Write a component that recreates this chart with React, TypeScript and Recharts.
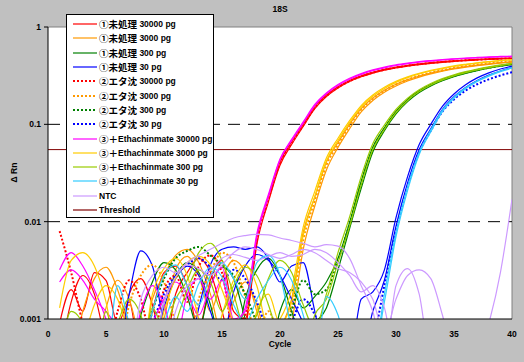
import { LineChart, Line, XAxis, YAxis, CartesianGrid, ReferenceLine } from "recharts";

const cycles = [1, 2, 3, 4, 5, 6, 7, 8, 9, 10, 11, 12, 13, 14, 15, 16, 17, 18, 19, 20, 21, 22, 23, 24, 25, 26, 27, 28, 29, 30, 31, 32, 33, 34, 35, 36, 37, 38, 39, 40];
const xTicks = [0, 5, 10, 15, 20, 25, 30, 35, 40];
const yTicks = [0.001, 0.01, 0.1, 1];
const threshold = 0.055;

// ① untreated
const u30000a = [0.0009, 0.002, 0.0012, 0.003, 0.0025, 0.0009, 0.0015, 0.0004, 0.0012, 0.003, 0.0035, 0.0022, 0.0008, 0.0025, 0.004, 0.0012, 0.001, 0.0068, 0.018, 0.041, 0.066, 0.1, 0.152, 0.2, 0.243, 0.282, 0.315, 0.343, 0.367, 0.387, 0.404, 0.418, 0.43, 0.441, 0.45, 0.458, 0.465, 0.471, 0.476, 0.48];
const u30000b = [0.0004, 0.0015, 0.0028, 0.0018, 0.0006, 0.0004, 0.0018, 0.0026, 0.0014, 0.0005, 0.0018, 0.003, 0.0042, 0.003, 0.0012, 0.0005, 0.0008, 0.0058, 0.016, 0.038, 0.062, 0.095, 0.145, 0.193, 0.236, 0.275, 0.308, 0.336, 0.36, 0.38, 0.397, 0.411, 0.423, 0.434, 0.443, 0.451, 0.458, 0.464, 0.469, 0.473];
const u3000a = [0.0004, 0.0004, 0.0012, 0.0026, 0.0034, 0.002, 0.0008, 0.0004, 0.0016, 0.0028, 0.0045, 0.0052, 0.0038, 0.0018, 0.0007, 0.0015, 0.0024, 0.0014, 0.0006, 0.0008, 0.0016, 0.0078, 0.018, 0.041, 0.065, 0.1, 0.145, 0.186, 0.224, 0.258, 0.288, 0.314, 0.337, 0.357, 0.375, 0.391, 0.405, 0.418, 0.43, 0.44];
const u3000b = [0.0004, 0.0009, 0.0004, 0.0004, 0.0013, 0.0025, 0.0016, 0.0006, 0.0004, 0.001, 0.0032, 0.0044, 0.0028, 0.0012, 0.0026, 0.004, 0.003, 0.0012, 0.0005, 0.0004, 0.0009, 0.0052, 0.0145, 0.034, 0.058, 0.09, 0.134, 0.176, 0.214, 0.248, 0.279, 0.306, 0.33, 0.351, 0.37, 0.386, 0.401, 0.414, 0.426, 0.436];
const u300a = [0.0004, 0.0004, 0.0004, 0.0004, 0.0004, 0.0004, 0.0004, 0.0011, 0.0024, 0.0038, 0.0032, 0.0017, 0.0008, 0.0022, 0.0034, 0.0026, 0.001, 0.0004, 0.0004, 0.0012, 0.002, 0.0013, 0.0017, 0.0024, 0.0042, 0.0098, 0.026, 0.058, 0.092, 0.136, 0.18, 0.221, 0.257, 0.289, 0.317, 0.342, 0.364, 0.384, 0.402, 0.418];
const u300b = [0.0004, 0.0004, 0.0004, 0.0004, 0.0004, 0.0004, 0.0004, 0.0004, 0.0004, 0.0015, 0.0028, 0.0038, 0.003, 0.0014, 0.0005, 0.0004, 0.0016, 0.0032, 0.0042, 0.0028, 0.0012, 0.0006, 0.0009, 0.0013, 0.0032, 0.0085, 0.022, 0.052, 0.086, 0.128, 0.171, 0.212, 0.248, 0.28, 0.309, 0.334, 0.357, 0.377, 0.395, 0.412];
const u30a = [0.0004, 0.0004, 0.0004, 0.0004, 0.0004, 0.0004, 0.0018, 0.005, 0.0035, 0.0009, 0.0004, 0.0004, 0.0013, 0.0036, 0.0052, 0.0055, 0.0052, 0.0055, 0.0042, 0.0024, 0.0035, 0.0038, 0.0012, 0.0004, 0.0004, 0.0004, 0.0016, 0.0019, 0.0032, 0.011, 0.029, 0.062, 0.1, 0.153, 0.205, 0.255, 0.3, 0.338, 0.37, 0.397];
const u30b = [0.0004, 0.0004, 0.0004, 0.0004, 0.0004, 0.0004, 0.0004, 0.0004, 0.0004, 0.0013, 0.0026, 0.0035, 0.0028, 0.0012, 0.0006, 0.0019, 0.0035, 0.0046, 0.004, 0.0028, 0.0016, 0.0009, 0.0004, 0.0004, 0.0004, 0.0004, 0.0004, 0.0012, 0.0025, 0.009, 0.025, 0.055, 0.09, 0.142, 0.192, 0.239, 0.282, 0.32, 0.353, 0.382];

// ② ethanol precipitation
const e30000 = [0.008, 0.003, 0.0009, 0.0004, 0.0004, 0.0012, 0.0025, 0.0016, 0.0006, 0.002, 0.0028, 0.0015, 0.0035, 0.0045, 0.003, 0.0008, 0.0011, 0.0064, 0.017, 0.04, 0.064, 0.098, 0.148, 0.196, 0.24, 0.278, 0.311, 0.34, 0.364, 0.384, 0.401, 0.415, 0.427, 0.438, 0.447, 0.455, 0.462, 0.468, 0.473, 0.477];
const e3000 = [0.0004, 0.0004, 0.0004, 0.0008, 0.0004, 0.0004, 0.0014, 0.0028, 0.0036, 0.0024, 0.0009, 0.0004, 0.0016, 0.003, 0.0048, 0.0038, 0.0017, 0.0007, 0.0012, 0.0007, 0.0013, 0.0065, 0.0165, 0.038, 0.062, 0.097, 0.142, 0.184, 0.222, 0.257, 0.288, 0.315, 0.339, 0.36, 0.379, 0.396, 0.411, 0.424, 0.436, 0.446];
const e300 = [0.0004, 0.0004, 0.0004, 0.0004, 0.0004, 0.0004, 0.0004, 0.0004, 0.0012, 0.0026, 0.0042, 0.005, 0.0055, 0.0045, 0.0036, 0.0028, 0.0018, 0.0009, 0.0004, 0.0004, 0.0012, 0.0025, 0.0018, 0.002, 0.004, 0.0095, 0.025, 0.056, 0.09, 0.133, 0.177, 0.218, 0.254, 0.286, 0.314, 0.339, 0.361, 0.381, 0.399, 0.415];
const e30 = [0.0004, 0.0004, 0.0004, 0.0004, 0.0004, 0.0004, 0.0004, 0.0004, 0.0009, 0.0018, 0.0028, 0.0036, 0.0042, 0.0034, 0.0025, 0.0032, 0.0026, 0.0015, 0.0007, 0.0004, 0.0009, 0.0016, 0.0011, 0.0005, 0.0004, 0.0004, 0.0004, 0.0006, 0.0022, 0.0082, 0.023, 0.052, 0.086, 0.135, 0.18, 0.222, 0.258, 0.29, 0.318, 0.343];

// ③ + Ethachinmate
const m30000a = [0.0032, 0.0048, 0.0035, 0.002, 0.001, 0.0004, 0.0004, 0.0012, 0.0022, 0.0014, 0.0006, 0.0018, 0.0026, 0.0016, 0.0025, 0.0009, 0.0013, 0.0075, 0.019, 0.044, 0.07, 0.106, 0.16, 0.21, 0.256, 0.297, 0.332, 0.362, 0.387, 0.408, 0.425, 0.44, 0.452, 0.463, 0.472, 0.48, 0.487, 0.493, 0.498, 0.502];
const m30000b = [0.0024, 0.0032, 0.0025, 0.0016, 0.0012, 0.0008, 0.0004, 0.0004, 0.0009, 0.0016, 0.0024, 0.0018, 0.0011, 0.0022, 0.0034, 0.001, 0.0012, 0.007, 0.018, 0.043, 0.068, 0.103, 0.156, 0.206, 0.251, 0.291, 0.326, 0.356, 0.381, 0.402, 0.42, 0.435, 0.447, 0.458, 0.467, 0.475, 0.482, 0.488, 0.493, 0.497];
const m3000a = [0.0013, 0.004, 0.0048, 0.0035, 0.0015, 0.0004, 0.0004, 0.0004, 0.0018, 0.0033, 0.0042, 0.0028, 0.001, 0.0004, 0.0011, 0.0025, 0.0036, 0.0022, 0.0008, 0.001, 0.002, 0.0088, 0.0205, 0.045, 0.072, 0.109, 0.156, 0.2, 0.24, 0.276, 0.307, 0.334, 0.358, 0.379, 0.398, 0.414, 0.429, 0.442, 0.453, 0.463];
const m3000b = [0.0004, 0.0004, 0.0006, 0.0014, 0.0022, 0.0016, 0.0007, 0.0004, 0.0004, 0.0012, 0.0026, 0.0038, 0.0044, 0.0036, 0.002, 0.0009, 0.0004, 0.0012, 0.0018, 0.0009, 0.0015, 0.0072, 0.018, 0.042, 0.068, 0.104, 0.15, 0.194, 0.234, 0.27, 0.302, 0.329, 0.353, 0.374, 0.393, 0.41, 0.425, 0.438, 0.45, 0.46];
const m300a = [0.0004, 0.0012, 0.0009, 0.0004, 0.0012, 0.0004, 0.0004, 0.0004, 0.0013, 0.0008, 0.0016, 0.0025, 0.0048, 0.006, 0.004, 0.0018, 0.0008, 0.0011, 0.0026, 0.004, 0.003, 0.0014, 0.0008, 0.0018, 0.0048, 0.0112, 0.029, 0.063, 0.098, 0.142, 0.186, 0.227, 0.263, 0.295, 0.323, 0.348, 0.37, 0.39, 0.408, 0.424];
const m300b = [0.0004, 0.0004, 0.0004, 0.0004, 0.0004, 0.0009, 0.0016, 0.0011, 0.0004, 0.0004, 0.0009, 0.002, 0.0032, 0.0024, 0.0012, 0.0022, 0.0034, 0.0028, 0.0014, 0.0006, 0.0004, 0.0004, 0.0011, 0.0016, 0.0038, 0.009, 0.024, 0.055, 0.089, 0.132, 0.176, 0.217, 0.254, 0.286, 0.315, 0.34, 0.363, 0.383, 0.401, 0.417];
const m30a = [0.0004, 0.0004, 0.0004, 0.0004, 0.0004, 0.0022, 0.0009, 0.0004, 0.0012, 0.0028, 0.0036, 0.0022, 0.0014, 0.0028, 0.0038, 0.0026, 0.0016, 0.0038, 0.0045, 0.0028, 0.0008, 0.0004, 0.0004, 0.0017, 0.0011, 0.0004, 0.0004, 0.0004, 0.0018, 0.0078, 0.023, 0.052, 0.088, 0.14, 0.19, 0.237, 0.28, 0.318, 0.352, 0.382];
const m30b = [0.0004, 0.0004, 0.0004, 0.0004, 0.0004, 0.0004, 0.0004, 0.0004, 0.0004, 0.0009, 0.0017, 0.0012, 0.0023, 0.0034, 0.0027, 0.0014, 0.0009, 0.0016, 0.0025, 0.0034, 0.0025, 0.0011, 0.0004, 0.0004, 0.0004, 0.0004, 0.0004, 0.0004, 0.0015, 0.007, 0.021, 0.049, 0.084, 0.135, 0.185, 0.232, 0.275, 0.313, 0.347, 0.377];

// NTC
const ntcA = [0.0004, 0.0004, 0.0004, 0.0004, 0.0004, 0.0004, 0.0004, 0.0016, 0.0028, 0.0034, 0.003, 0.0038, 0.0045, 0.0052, 0.006, 0.0068, 0.0072, 0.0074, 0.0073, 0.0068, 0.0064, 0.006, 0.0055, 0.0058, 0.0056, 0.0042, 0.0022, 0.0012, 0.0004, 0.0022, 0.0033, 0.0018, 0.0004, 0.0004, 0.0004, 0.0004, 0.0004, 0.0004, 0.0004, 0.0004];
const ntcB = [0.0004, 0.0004, 0.0004, 0.0004, 0.0004, 0.0004, 0.0004, 0.0004, 0.0004, 0.0015, 0.0027, 0.0036, 0.0033, 0.0028, 0.0036, 0.0048, 0.0055, 0.0052, 0.0046, 0.0042, 0.0046, 0.0052, 0.0048, 0.004, 0.0033, 0.003, 0.0024, 0.0016, 0.0007, 0.0016, 0.0028, 0.0032, 0.0026, 0.0011, 0.0004, 0.0004, 0.0004, 0.0009, 0.003, 0.017];
const ntcC = [0.0004, 0.0004, 0.0004, 0.0004, 0.0004, 0.0004, 0.0004, 0.0004, 0.0004, 0.0004, 0.0012, 0.0022, 0.0026, 0.0032, 0.0042, 0.0046, 0.0043, 0.004, 0.0044, 0.0048, 0.0044, 0.0046, 0.0052, 0.0048, 0.0038, 0.0028, 0.0019, 0.0022, 0.0013, 0.0004, 0.0004, 0.0004, 0.0004, 0.0004, 0.0004, 0.0004, 0.0004, 0.0004, 0.0004, 0.0004];

const RED = "#ff0000";
const ORANGE = "#ff9900";
const GREEN = "#008000";
const BLUE = "#0000ff";
const MAGENTA = "#ff00ff";
const GOLD = "#ffcc00";
const LIME = "#99cc00";
const CYAN = "#33ccff";
const NTC = "#cc99ff";
const THRESH = "#800000";

const series = [
  { key: "u30000a", data: u30000a, color: RED, dotted: false },
  { key: "u30000b", data: u30000b, color: RED, dotted: false },
  { key: "u3000a", data: u3000a, color: ORANGE, dotted: false },
  { key: "u3000b", data: u3000b, color: ORANGE, dotted: false },
  { key: "u300a", data: u300a, color: GREEN, dotted: false },
  { key: "u300b", data: u300b, color: GREEN, dotted: false },
  { key: "u30a", data: u30a, color: BLUE, dotted: false },
  { key: "u30b", data: u30b, color: BLUE, dotted: false },
  { key: "e30000", data: e30000, color: RED, dotted: true },
  { key: "e3000", data: e3000, color: ORANGE, dotted: true },
  { key: "e300", data: e300, color: GREEN, dotted: true },
  { key: "e30", data: e30, color: BLUE, dotted: true },
  { key: "m30000a", data: m30000a, color: MAGENTA, dotted: false },
  { key: "m30000b", data: m30000b, color: MAGENTA, dotted: false },
  { key: "m3000a", data: m3000a, color: GOLD, dotted: false },
  { key: "m3000b", data: m3000b, color: GOLD, dotted: false },
  { key: "m300a", data: m300a, color: LIME, dotted: false },
  { key: "m300b", data: m300b, color: LIME, dotted: false },
  { key: "m30a", data: m30a, color: CYAN, dotted: false },
  { key: "m30b", data: m30b, color: CYAN, dotted: false },
  { key: "ntcA", data: ntcA, color: NTC, dotted: false },
  { key: "ntcB", data: ntcB, color: NTC, dotted: false },
  { key: "ntcC", data: ntcC, color: NTC, dotted: false },
];

const legendNames = [
  "①未処理 30000 pg", "①未処理 3000 pg", "①未処理 300 pg", "①未処理 30 pg",
  "②エタ沈 30000 pg", "②エタ沈 3000 pg", "②エタ沈 300 pg", "②エタ沈 30 pg",
  "③＋Ethachinmate 30000 pg", "③＋Ethachinmate 3000 pg", "③＋Ethachinmate 300 pg", "③＋Ethachinmate 30 pg",
  "NTC", "Threshold",
];
const legendColors = [RED, ORANGE, GREEN, BLUE, RED, ORANGE, GREEN, BLUE, MAGENTA, GOLD, LIME, CYAN, NTC, THRESH];
const legendDotted = [false, false, false, false, true, true, true, true, false, false, false, false, false, false];

const rows = cycles.map((c, i) => {
  const row: Record<string, number> = { cycle: c };
  series.forEach((s) => (row[s.key] = s.data[i]));
  return row;
});

const FONT = "'Liberation Sans', Arial, 'Noto Sans CJK JP', sans-serif";
const tickStyle = { fontSize: 8.5, fill: "#000", fontWeight: 700, fontFamily: FONT };

function Legend() {
  return (
    <div
      style={{
        position: "absolute", left: 66, top: 14, width: 148, height: 204,
        background: "#fff", border: "1.5px solid #000", boxSizing: "border-box",
        paddingTop: 2, fontFamily: FONT, fontWeight: 700, color: "#000",
      }}
    >
      {legendNames.map((name, i) => {
        const m = name.match(/^([^\x00-\x7f]*)(.*)$/) || ["", "", name];
        return (
          <div key={name} style={{ height: 14.3, display: "flex", alignItems: "center", whiteSpace: "pre" }}>
            <svg width={27} height={6} style={{ marginLeft: 5, flex: "none" }}>
              <line x1={1} y1={3} x2={25} y2={3} stroke={legendColors[i]}
                strokeWidth={legendDotted[i] ? 2 : 1.2} strokeDasharray={legendDotted[i] ? "2 2" : undefined} />
            </svg>
            <span style={{ fontSize: 9.5, fontFamily: "'Noto Sans CJK JP', sans-serif" }}>{m[1]}</span>
            <span style={{ fontSize: 8.5 }}>{m[2].replace(/^ /, "\u00a0")}</span>
          </div>
        );
      })}
    </div>
  );
}

export default function App() {
  return (
    <div style={{ position: "absolute", left: 0, top: 0, width: 524, height: 362, background: "#c0c0c0", fontFamily: FONT }}>
      <LineChart width={524} height={362} data={rows} margin={{ top: 27, right: 12, bottom: 0, left: 0 }}>
        <CartesianGrid horizontal={false} vertical={false} fill="#fff" />
        <XAxis dataKey="cycle" type="number" domain={[0, 40]} ticks={xTicks} allowDataOverflow
          height={43} tickLine={false} tickSize={3} tickMargin={9} axisLine={{ stroke: "#000" }} tick={tickStyle} />
        <YAxis scale="log" domain={[0.001, 1]} ticks={yTicks} allowDataOverflow width={48}
          tickSize={4} tickMargin={3} axisLine={{ stroke: "#000" }} tickLine={{ stroke: "#000" }} tick={tickStyle} />
        <ReferenceLine y={1} stroke="#808080" />
        <ReferenceLine x={40} stroke="#808080" />
        <ReferenceLine y={0.1} stroke="#000" strokeDasharray="12 8" />
        <ReferenceLine y={0.01} stroke="#000" strokeDasharray="12 8" />
        <ReferenceLine y={threshold} stroke={THRESH} />
        {series.map((s) => (
          <Line key={s.key} dataKey={s.key} type="monotone" stroke={s.color} dot={false}
            strokeWidth={s.dotted ? 2 : 1.2} strokeDasharray={s.dotted ? "2 2" : undefined}
            isAnimationActive={false} legendType="none" />
        ))}
      </LineChart>
      <div style={{ position: "absolute", left: 48, width: 464, top: 4, textAlign: "center", fontSize: 8.5, fontWeight: 700, lineHeight: "11px" }}>18S</div>
      <div style={{ position: "absolute", left: 48, width: 464, top: 339, textAlign: "center", fontSize: 8.5, fontWeight: 700, lineHeight: "11px" }}>Cycle</div>
      <div style={{ position: "absolute", left: -10, top: 167, width: 48, textAlign: "center", fontSize: 8.5, fontWeight: 700, lineHeight: "11px", transform: "rotate(-90deg)" }}>Δ Rn</div>
      <Legend />
    </div>
  );
}
